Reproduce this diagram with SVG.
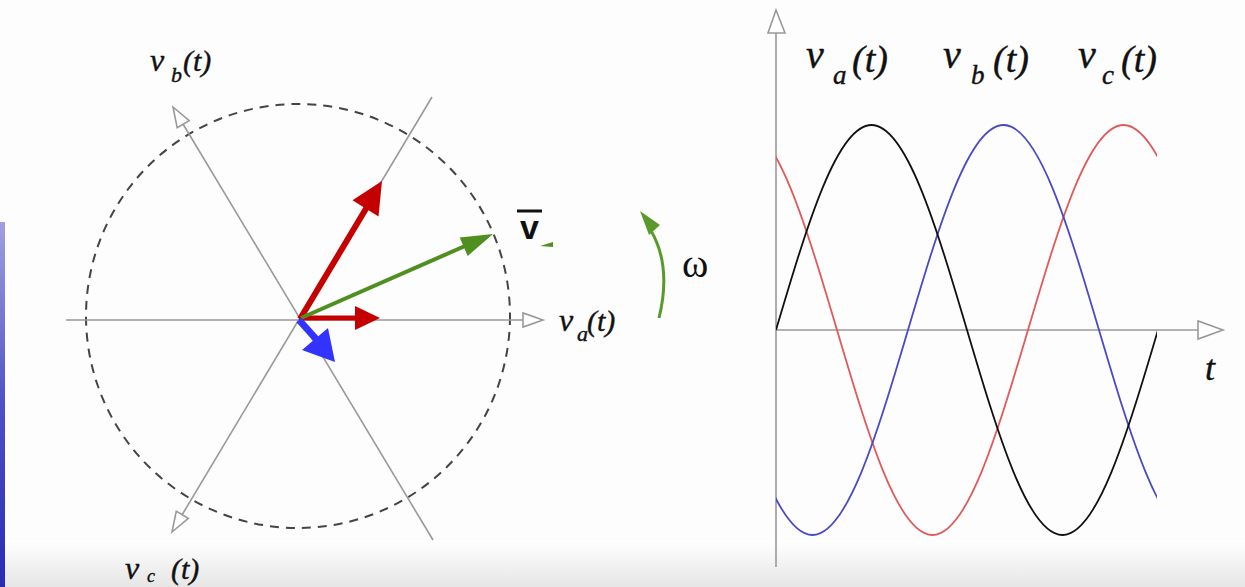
<svg xmlns="http://www.w3.org/2000/svg" width="1245" height="587" viewBox="0 0 1245 587">
<defs>
<style>
.lbl{font-family:"Liberation Serif",serif;font-style:italic;fill:#111;stroke:#111;stroke-width:0.4}
.axis{stroke:#999;stroke-width:1.6;fill:none}
.tri{fill:#fff;stroke:#999;stroke-width:1.6}
.wave{fill:none;stroke-width:1.8}
</style>
<linearGradient id="bot" x1="0" y1="0" x2="0" y2="1">
<stop offset="0" stop-color="#ffffff"/>
<stop offset="1" stop-color="#e6e6e6"/>
</linearGradient>
<linearGradient id="strip" x1="0" y1="0" x2="0" y2="1">
<stop offset="0" stop-color="#a0a0e0"/>
<stop offset="0.5" stop-color="#5050c8"/>
<stop offset="1" stop-color="#2a2ab4"/>
</linearGradient>
<clipPath id="plotclip"><rect x="776" y="0" width="381" height="587"/></clipPath>
</defs>
<rect width="1245" height="587" fill="#fefdfe"/>
<rect x="0" y="540" width="1245" height="47" fill="url(#bot)"/>
<rect x="0" y="222" width="5" height="365" fill="url(#strip)"/>

<g id="phasor-axes">
<circle cx="298" cy="316" r="212" fill="none" stroke="#444" stroke-width="2" stroke-dasharray="9 7"/>
<line class="axis" x1="66" y1="320" x2="523" y2="320"/>
<polygon class="tri" points="543,320 523,313 523,327"/>
<line class="axis" x1="433" y1="540" x2="183" y2="124"/>
<polygon class="tri" points="173,107 189.2,120.6 177.2,127.8"/>
<line class="axis" x1="432" y1="97" x2="182" y2="515"/>
<polygon class="tri" points="172,532 188.3,518.4 176.3,511.2"/>
</g>

<g id="vector-red-b">
<line x1="300" y1="319" x2="367" y2="207" stroke="#c40000" stroke-width="6"/>
<polygon points="382,181 378.5,216.6 352.5,200.2" fill="#c40000"/>
</g>
<g id="vector-red-a">
<line x1="299" y1="318" x2="358" y2="318" stroke="#c40000" stroke-width="5"/>
<polygon points="380,318 355,306 355,330" fill="#c40000"/>
</g>
<g id="vector-green">
<line x1="301" y1="318" x2="465" y2="246" stroke="#4f8f1f" stroke-width="4"/>
<polygon points="493,234 467.7,256 459.7,237.6" fill="#4f8f1f"/>
</g>
<g id="vector-blue">
<line x1="299" y1="320" x2="317" y2="340" stroke="#3333ff" stroke-width="7"/>
<polygon points="335,362 328,328 302,350" fill="#3333ff"/>
</g>

<g id="label-vbar">
<line x1="517" y1="211" x2="542" y2="211" stroke="#111" stroke-width="3"/>
<text x="529.5" y="239" font-family="Liberation Sans,sans-serif" font-weight="bold" font-size="34" text-anchor="middle" fill="#111">v</text>
<path d="M540,246 L553,242 L553,247 Z" fill="#4f8f1f"/>
</g>

<g id="omega">
<path d="M659,318 Q672,265 650,229" fill="none" stroke="#5a9a2a" stroke-width="3"/>
<polygon points="640,211 660,225 649,235" fill="#5a9a2a"/>
<text x="682" y="277" font-family="Liberation Serif,serif" font-size="40" fill="#111">ω</text>
</g>

<g id="label-vb-left">
<text class="lbl" x="150" y="71" font-size="32">v</text>
<text class="lbl" x="171" y="82" font-size="22">b</text>
<text class="lbl" x="183" y="71" font-size="30">(t)</text>
</g>
<g id="label-va-left">
<text class="lbl" x="559" y="331" font-size="32">v</text>
<text class="lbl" x="577" y="341" font-size="22">a</text>
<text class="lbl" x="587" y="331" font-size="30">(t)</text>
</g>
<g id="label-vc-left">
<text class="lbl" x="125" y="579" font-size="32">v</text>
<text class="lbl" x="147" y="582" font-size="18">c</text>
<text class="lbl" x="171" y="579" font-size="30">(t)</text>
</g>

<g id="time-axes">
<line class="axis" x1="776" y1="567" x2="776" y2="33" stroke="#888" stroke-width="2"/>
<polygon class="tri" points="776,10 768,33 785,33"/>
<line class="axis" x1="776" y1="330" x2="1198" y2="330" stroke="#888" stroke-width="2"/>
<polygon class="tri" points="1223,330 1198,321 1198,339"/>
<text class="lbl" x="1205" y="380" font-size="36">t</text>
</g>

<g id="waves" clip-path="url(#plotclip)">
<path id="wave-c" class="wave" stroke="#e05a5a" d="M646,330 c31.15,-105 60.94,-205 95.5,-205 c34.56,0 64.35,100 95.5,205 c31.15,105 60.94,205 95.5,205 c34.56,0 64.35,-100 95.5,-205 c31.15,-105 60.94,-205 95.5,-205 c34.56,0 64.35,100 95.5,205 c31.15,105 60.94,205 95.5,205 c34.56,0 64.35,-100 95.5,-205"/>
<path id="wave-b" class="wave" stroke="#4a4ac8" d="M526,330 c31.15,-105 60.94,-205 95.5,-205 c34.56,0 64.35,100 95.5,205 c31.15,105 60.94,205 95.5,205 c34.56,0 64.35,-100 95.5,-205 c31.15,-105 60.94,-205 95.5,-205 c34.56,0 64.35,100 95.5,205 c31.15,105 60.94,205 95.5,205 c34.56,0 64.35,-100 95.5,-205"/>
<path id="wave-a" class="wave" stroke="#111" stroke-width="2" d="M776,330 c31.15,-105 60.94,-205 95.5,-205 c34.56,0 64.35,100 95.5,205 c31.15,105 60.94,205 95.5,205 c34.56,0 64.35,-100 95.5,-205"/>
</g>

<g id="label-va-right">
<text class="lbl" x="806" y="68" font-size="40">v</text>
<text class="lbl" x="833" y="84" font-size="27">a</text>
<text class="lbl" x="852" y="72" font-size="38">(t)</text>
</g>
<g id="label-vb-right">
<text class="lbl" x="943" y="68" font-size="40">v</text>
<text class="lbl" x="971" y="84" font-size="27">b</text>
<text class="lbl" x="993" y="72" font-size="38">(t)</text>
</g>
<g id="label-vc-right">
<text class="lbl" x="1078" y="68" font-size="40">v</text>
<text class="lbl" x="1102" y="84" font-size="27">c</text>
<text class="lbl" x="1121" y="72" font-size="38">(t)</text>
</g>
</svg>
